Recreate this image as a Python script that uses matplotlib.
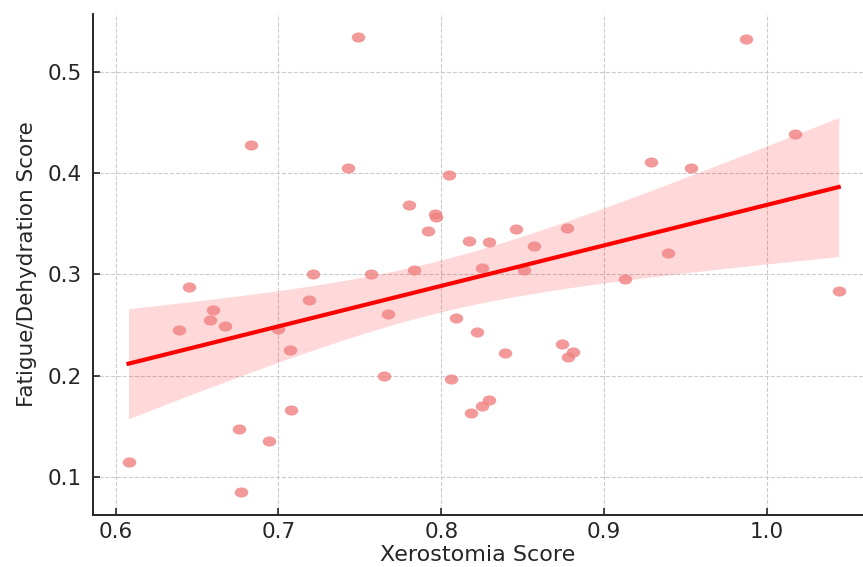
import numpy as np
import matplotlib
matplotlib.use('Agg')
import matplotlib.pyplot as plt
from matplotlib.path import Path
from matplotlib.transforms import Affine2D

#======================================
#Data
#======================================
xerostomia = [0.608, 0.639, 0.645, 0.658, 0.660, 0.667, 0.676, 0.677, 0.683, 0.694,
              0.700, 0.707, 0.708, 0.719, 0.721, 0.743, 0.749, 0.757, 0.765, 0.767,
              0.780, 0.783, 0.792, 0.796, 0.797, 0.805, 0.806, 0.809, 0.817, 0.818,
              0.822, 0.825, 0.825, 0.829, 0.829, 0.839, 0.846, 0.851, 0.857, 0.874,
              0.877, 0.878, 0.881, 0.913, 0.929, 0.939, 0.953, 0.987, 1.017, 1.044]
fatigue = [0.115, 0.245, 0.288, 0.255, 0.265, 0.249, 0.148, 0.085, 0.428, 0.136,
           0.246, 0.226, 0.166, 0.275, 0.300, 0.405, 0.534, 0.300, 0.200, 0.261,
           0.369, 0.304, 0.343, 0.360, 0.357, 0.398, 0.197, 0.257, 0.333, 0.163,
           0.243, 0.306, 0.170, 0.332, 0.176, 0.223, 0.345, 0.304, 0.328, 0.231,
           0.346, 0.219, 0.224, 0.296, 0.411, 0.321, 0.405, 0.532, 0.439, 0.284]
x_ticks = [0.6, 0.7, 0.8, 0.9, 1.0]
y_ticks = [0.1, 0.2, 0.3, 0.4, 0.5]

x = np.array(xerostomia)
y = np.array(fatigue)

#======================================
#Linear fit with 95% confidence band
#======================================
n = len(x)
slope, intercept = np.polyfit(x, y, 1)
resid = y - (slope * x + intercept)
s_err = np.sqrt(np.sum(resid ** 2) / (n - 2))
t_val = 2.0106  # t(0.975, df=48)
x_grid = np.linspace(x.min(), x.max(), 100)
y_fit = slope * x_grid + intercept
ci = t_val * s_err * np.sqrt(1.0 / n + (x_grid - x.mean()) ** 2 / np.sum((x - x.mean()) ** 2))

#the reference points are slightly wider than tall
ellipse = Path.unit_circle().transformed(Affine2D().scale(1.0, 0.75))

#======================================
#Plotting
#======================================
fig = plt.figure(figsize=(8.63, 5.67), dpi=100)
ax = fig.add_axes([0.1078, 0.0917, 0.8922, 0.8836])

ax.fill_between(x_grid, y_fit - ci, y_fit + ci, color='red', alpha=0.15, lw=0, zorder=2)
ax.scatter(x, y, marker=ellipse, s=95, color='lightcoral', alpha=0.8, lw=0, zorder=3)
ax.plot(x_grid, y_fit, color='red', lw=3, zorder=4)

ax.set_xlim(0.5862, 1.0589)
ax.set_ylim(0.0628, 0.5569)
ax.set_xticks(x_ticks)
ax.set_yticks(y_ticks)
ax.set_xticklabels(['%.1f' % v for v in x_ticks])
ax.set_yticklabels(['%.1f' % v for v in y_ticks])

ax.grid(True, ls='--', lw=0.8, color='#cccccc', zorder=0)
ax.set_axisbelow(True)
for side in ['top', 'right']:
    ax.spines[side].set_visible(False)
for side in ['left', 'bottom']:
    ax.spines[side].set_linewidth(1.4)
    ax.spines[side].set_color('#262626')

ax.tick_params(axis='both', direction='in', length=5, width=1.2, color='#262626',
               labelsize=15.5, labelcolor='#262626')
ax.tick_params(axis='x', pad=5)
ax.tick_params(axis='y', pad=8)

ax.set_xlabel('Xerostomia Score', fontsize=16, color='#262626', labelpad=2)
ax.set_ylabel('Fatigue/Dehydration Score', fontsize=15.5, color='#262626', labelpad=8)

fig.savefig('out.png', dpi=100)
